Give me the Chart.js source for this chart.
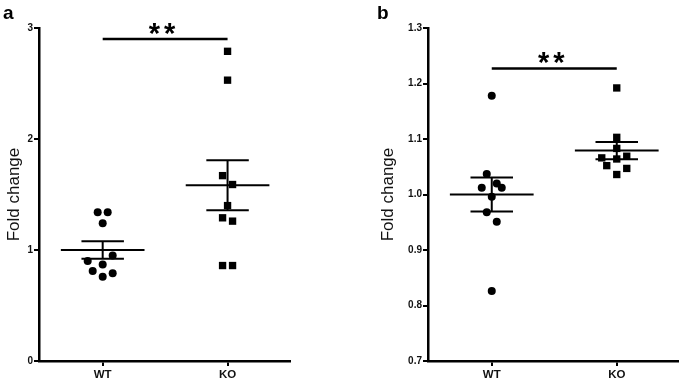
<!DOCTYPE html>
<html>
<head>
<meta charset="utf-8">
<script src="https://cdn.jsdelivr.net/npm/chart.js@4.4.1/dist/chart.umd.min.js"></script>
<style>
body { margin: 0; background: #fff; width: 685px; height: 385px; position: relative; overflow: hidden; font-family: "Liberation Sans", Arial, sans-serif; }
.box { position: absolute; top: 0; height: 385px; }
#boxA { left: 0; width: 345px; }
#boxB { left: 345px; width: 340px; }
.tag { position: absolute; top: 3px; font-weight: bold; font-size: 19px; line-height: 19px; color: #000; }
</style>
</head>
<body>
<div class="box" id="boxA"><canvas id="chartA"></canvas></div>
<div class="box" id="boxB"><canvas id="chartB"></canvas></div>
<div class="tag" style="left:3px">a</div>
<div class="tag" style="left:377px">b</div>
<script>
const groups = ['WT', 'KO'];

// panel a
const wtA = [1.34, 1.34, 1.24, 0.95, 0.90, 0.87, 0.81, 0.79, 0.76];
const koA = [2.79, 2.53, 1.67, 1.59, 1.40, 1.29, 1.26, 0.86, 0.86];
const ticksA = [0, 1, 2, 3];
const sigA = 2.9;

// panel b
const wtB = [1.178, 1.037, 1.020, 1.012, 1.012, 0.996, 0.968, 0.951, 0.826];
const koB = [1.192, 1.103, 1.083, 1.066, 1.069, 1.064, 1.052, 1.047, 1.036];
const ticksB = [0.7, 0.8, 0.9, 1.0, 1.1, 1.2, 1.3];
const sigB = 1.227;

// sideways spread of the dots (in marker slots), like the prism scatter
const spreadWtA = [-1, 1, 0, 2, -3, 0, -2, 2, 0];
const spreadKoA = [0, 0, -1, 1, 0, -1, 1, -1, 1];
const spreadWtB = [0, -1, 1, -2, 2, 0, -1, 1, 0];
const spreadKoB = [0, 0, 0, -3, 2, 0, -2, 2, 0];

const SLOT = 0.04;
const FONT = '"Liberation Sans", Arial, sans-serif';

function meanSem(v) {
  const n = v.length;
  const m = v.reduce((s, x) => s + x, 0) / n;
  const sd = Math.sqrt(v.reduce((s, x) => s + (x - m) * (x - m), 0) / (n - 1));
  return [m, sd / Math.sqrt(n)];
}

// mean line + sem bar as plain line segments
function barSegments(c, v) {
  const [m, se] = meanSem(v);
  const segs = [
    [[c - 0.335, m], [c + 0.335, m]],
    [[c - 0.17, m + se], [c + 0.17, m + se]],
    [[c - 0.17, m - se], [c + 0.17, m - se]],
    [[c, m + se], [c, m - se]]
  ];
  return segs.map(s => ({
    data: s.map(p => ({x: p[0], y: p[1]})),
    showLine: true, borderColor: '#000', borderWidth: 2, pointRadius: 0
  }));
}

function dots(c, v, spread, style, r) {
  return {
    data: v.map((y, i) => ({x: c + spread[i] * SLOT, y: y})),
    pointStyle: style, pointRadius: r, pointHoverRadius: r,
    backgroundColor: '#000', borderColor: '#000', borderWidth: 0
  };
}

function sigLine(y) {
  return {
    data: [{x: 1, y: y}, {x: 2, y: y}],
    showLine: true, borderColor: '#000', borderWidth: 2.5, pointRadius: 0
  };
}

const stars = {
  id: 'stars',
  afterDatasetsDraw(chart, args, opts) {
    const {ctx, scales: {x, y}} = chart;
    const cx = (x.getPixelForValue(1) + x.getPixelForValue(2)) / 2 - 1;
    const cy = y.getPixelForValue(opts.value) - 10.5;
    ctx.save();
    ctx.font = 'bold 29px ' + FONT;
    ctx.letterSpacing = '4px';
    ctx.fillStyle = '#000';
    ctx.textAlign = 'center';
    ctx.textBaseline = 'alphabetic';
    const m = ctx.measureText('**');
    ctx.fillText('**', cx, cy + (m.actualBoundingBoxAscent - m.actualBoundingBoxDescent) / 2);
    ctx.restore();
  }
};

function makeChart(id, wt, ko, sw, sk, sig, yTicks, digits, opt) {
  return new Chart(document.getElementById(id), {
    type: 'scatter',
    data: {
      datasets: [
        dots(1, wt, sw, 'circle', 4),
        dots(2, ko, sk, 'rect', 5.2),
        ...barSegments(1, wt),
        ...barSegments(2, ko),
        sigLine(sig)
      ]
    },
    options: {
      responsive: true,
      maintainAspectRatio: false,
      animation: false,
      layout: { padding: opt.padding },
      plugins: {
        legend: { display: false },
        tooltip: { enabled: false },
        stars: { value: sig }
      },
      scales: {
        x: {
          type: 'linear',
          min: 0.49,
          max: opt.xMax,
          afterBuildTicks: s => { s.ticks = groups.map((g, i) => ({value: i + 1})); },
          afterFit: s => { s.height = 24; },
          ticks: {
            callback: v => groups[v - 1],
            font: { family: FONT, size: 11.5, weight: 'bold' },
            color: '#111', padding: 2, maxRotation: 0, autoSkip: false
          },
          grid: { drawOnChartArea: false, drawTicks: true, tickLength: 5, color: '#000', lineWidth: 2 },
          border: { color: '#000', width: 2.5 }
        },
        y: {
          min: yTicks[0],
          max: yTicks[yTicks.length - 1],
          afterBuildTicks: s => { s.ticks = yTicks.map(v => ({value: v})); },
          afterFit: s => { s.width = opt.yWidth; },
          ticks: {
            callback: v => v.toFixed(digits),
            font: { family: FONT, size: 10, weight: 'bold' },
            color: '#111', padding: 1, autoSkip: false
          },
          title: {
            display: true, text: 'Fold change', color: '#111',
            font: { family: FONT, size: 17 },
            padding: { top: opt.titlePad, bottom: 0 }
          },
          grid: { drawOnChartArea: false, drawTicks: true, tickLength: 5, color: '#000', lineWidth: 2 },
          border: { color: '#000', width: 2.5 }
        }
      }
    },
    plugins: [stars]
  });
}

makeChart('chartA', wtA, koA, spreadWtA, spreadKoA, sigA, ticksA, 0,
  { padding: {top: 28, right: 55, bottom: 0, left: 0}, xMax: 2.5, yWidth: 39, titlePad: 4 });
makeChart('chartB', wtB, koB, spreadWtB, spreadKoB, sigB, ticksB, 1,
  { padding: {top: 28, right: 7, bottom: 0, left: 30}, xMax: 2.49, yWidth: 53, titlePad: 3 });
</script>
</body>
</html>
